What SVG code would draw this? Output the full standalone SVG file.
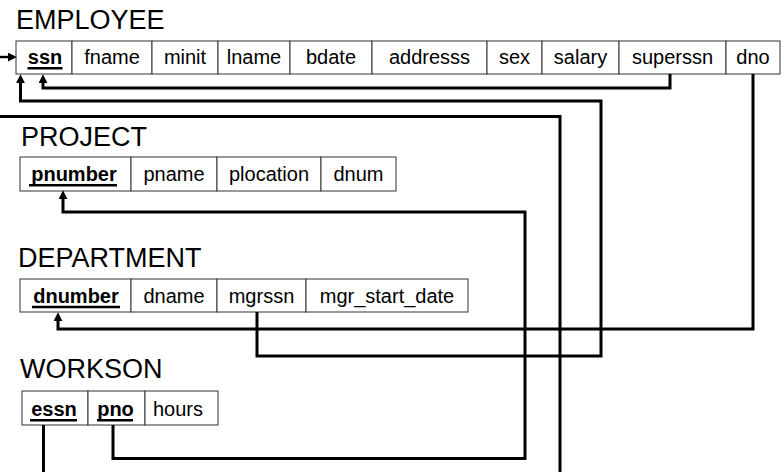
<svg xmlns="http://www.w3.org/2000/svg" width="782" height="472" viewBox="0 0 782 472">
<style>
.title{font-family:"Liberation Sans",Arial,sans-serif;font-size:27px;fill:#000}
.cell{fill:#fff;stroke:#333;stroke-width:1}
.t{font-family:"Liberation Sans",Arial,sans-serif;font-size:20px;fill:#000;text-anchor:middle}
.k{font-weight:bold}
.ul{stroke:#000;stroke-width:2.6}
.c{fill:none;stroke:#000;stroke-width:3;stroke-linejoin:miter;stroke-linecap:butt}
</style>
<defs>
<marker id="ah" markerUnits="userSpaceOnUse" markerWidth="9" markerHeight="9" refX="2" refY="4" orient="auto" viewBox="0 0 8 8">
<path d="M0,0 L8,4 L0,8 z" fill="#000"/>
</marker>
</defs>
<rect width="782" height="472" fill="#fff"/>

<g id="employee">
<text class="title" x="16" y="29">EMPLOYEE</text>
<rect class="cell" x="16" y="41" width="56" height="33"/>
<rect class="cell" x="72" y="41" width="80" height="33"/>
<rect class="cell" x="152" y="41" width="66" height="33"/>
<rect class="cell" x="218" y="41" width="72" height="33"/>
<rect class="cell" x="290" y="41" width="82" height="33"/>
<rect class="cell" x="372" y="41" width="115" height="33"/>
<rect class="cell" x="487" y="41" width="55" height="33"/>
<rect class="cell" x="542" y="41" width="77" height="33"/>
<rect class="cell" x="619" y="41" width="107" height="33"/>
<rect class="cell" x="726" y="41" width="54" height="33"/>
<text class="t k" x="45" y="64">ssn</text>
<line class="ul" x1="27.5" y1="68.3" x2="62.5" y2="68.3"/>
<text class="t" x="112" y="64">fname</text>
<text class="t" x="185" y="64">minit</text>
<text class="t" x="254" y="64">lname</text>
<text class="t" x="331" y="64">bdate</text>
<text class="t" x="429.5" y="64">addresss</text>
<text class="t" x="514.5" y="64">sex</text>
<text class="t" x="580.5" y="64">salary</text>
<text class="t" x="672.5" y="64">superssn</text>
<text class="t" x="753" y="64">dno</text>
</g>

<g id="project">
<text class="title" x="21" y="146">PROJECT</text>
<rect class="cell" x="20" y="157" width="111" height="34"/>
<rect class="cell" x="131" y="157" width="86" height="34"/>
<rect class="cell" x="217" y="157" width="104" height="34"/>
<rect class="cell" x="321" y="157" width="75" height="34"/>
<text class="t k" x="74" y="181">pnumber</text>
<line class="ul" x1="29" y1="185.3" x2="117" y2="185.3"/>
<text class="t" x="174" y="181">pname</text>
<text class="t" x="269" y="181">plocation</text>
<text class="t" x="358.5" y="181">dnum</text>
</g>

<g id="department">
<text class="title" x="18" y="267">DEPARTMENT</text>
<rect class="cell" x="20" y="279" width="111" height="33"/>
<rect class="cell" x="131" y="279" width="86" height="33"/>
<rect class="cell" x="217" y="279" width="89" height="33"/>
<rect class="cell" x="306" y="279" width="162" height="33"/>
<text class="t k" x="76" y="303">dnumber</text>
<line class="ul" x1="32" y1="307" x2="120" y2="307"/>
<text class="t" x="174" y="303">dname</text>
<text class="t" x="261.5" y="303">mgrssn</text>
<text class="t" x="387" y="303">mgr_start_date</text>
</g>

<g id="workson">
<text class="title" x="20" y="378">WORKSON</text>
<rect class="cell" x="22" y="391" width="66" height="34"/>
<rect class="cell" x="88" y="391" width="57" height="34"/>
<rect class="cell" x="145" y="391" width="73" height="34"/>
<text class="t k" x="54" y="416">essn</text>
<line class="ul" x1="30" y1="420.3" x2="77" y2="420.3"/>
<text class="t k" x="115.5" y="416">pno</text>
<line class="ul" x1="97" y1="420.3" x2="133" y2="420.3"/>
<text class="t" x="178" y="416">hours</text>
</g>

<g id="connectors">
<path class="c" style="stroke-width:2.4" d="M0,57 H10" marker-end="url(#ah)"/>
<path class="c" d="M670,74 V88 H43 V81" marker-end="url(#ah)"/>
<path class="c" d="M257,312 V356 H601 V101 H20.5 V81" marker-end="url(#ah)"/>
<path class="c" d="M0,116.5 H560 V472"/>
<path class="c" d="M753,74 V329 H58 V319" marker-end="url(#ah)"/>
<path class="c" d="M113,425 V458.5 H525 V212 H63 V197" marker-end="url(#ah)"/>
<path class="c" d="M43.5,425 V472"/>
</g>
</svg>
